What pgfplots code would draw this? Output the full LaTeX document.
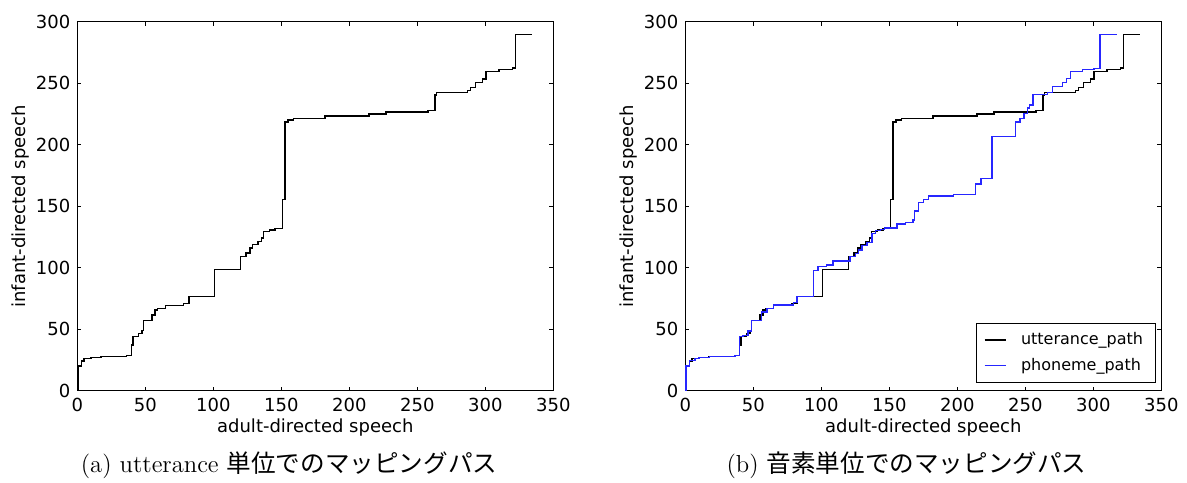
\documentclass[border=0pt]{standalone}
\usepackage{fontspec}
\usepackage{pgfplots}
\pgfplotsset{compat=1.18}
\newfontfamily\dejavu{DejaVu Sans}
\newfontfamily\jp{Noto Sans CJK JP}
\definecolor{mplblue}{rgb}{0.15,0.15,1}

% DTW alignment path at utterance level (x: adult, y: infant)
\pgfplotstableread{
x y
0 0
0.5 20
3 24
5 26
10 27
17.5 27.6
36 28.4
40 37
41 44
45 46.5
47.5 49
48.5 57
55 61.5
57 65.5
59 67
65 69.5
78 71
82 76.4
100.8 98.7
120 109
124 112
127 116
129 118.7
133 121.3
135.5 124
137 129.3
141.5 130.6
145.5 132
151 155.5
152.8 218.5
155 220
159 221.5
182 223.3
214.5 224.8
227 226.7
258 227.6
263 240.5
264 242.6
287 244.3
289 246.5
293 250.5
298 253.5
300.5 259.5
310 261
320 262.5
322.3 289.5
334.5 289.5
}\utterancepath

% DTW alignment path at phoneme level
\pgfplotstableread{
x y
0 0
0.5 20
3 24.5
7 26.3
10 27
18 27.6
36.5 28.7
40 44
42.5 45
46 48.7
48.5 57
56 64
60 67
65 69.7
79.5 71.6
82 76.4
94.3 97.6
97.5 101
104 102.2
108.5 105.5
121 109
125 111.7
127.5 114.4
130 118
133.5 120.4
137.3 127.9
139.7 130.1
143.4 131.2
146.3 132.3
155.7 135.5
161.8 136.6
167.5 138.8
168.5 146
171.6 153
175.3 155.6
179 158.4
197.4 159.3
213.5 168
217.3 172.7
225.6 206.5
242.8 218.3
246 221.4
249 225.5
251.4 230
253.3 232.3
255.8 241
266.1 242.3
269.8 247.2
277.2 250.8
280.4 253.8
283.3 259.6
292.2 261
300.4 262.1
304.9 289.5
317.7 289.5
}\phonemepath

\pgfplotsset{
  dtwaxis/.style={
    scale only axis,
    width=238pt, height=184.5pt,
    xmin=0, xmax=350, ymin=0, ymax=300,
    xtick={0,50,...,350}, ytick={0,50,...,300},
    tick align=inside,
    major tick length=2pt,
    axis line style={line width=0.5pt},
    every tick/.style={black, line width=0.4pt},
    /pgf/number format/assume math mode=true,
    ticklabel style={font=\dejavu\fontsize{9}{10}\selectfont},
    label style={font=\dejavu\fontsize{9}{10}\selectfont},
    xlabel={adult-directed speech},
    ylabel={infant-directed speech},
    xlabel style={at={(axis description cs:0.5,-0.100)}, anchor=center},
    ylabel style={at={(axis description cs:-0.1195,0.5)}, anchor=center},
    clip=false,
  },
}

\begin{document}
\begin{tikzpicture}
\useasboundingbox (-38.65pt,-45.65pt) rectangle (554.85pt,195.35pt);

\begin{axis}[dtwaxis, at={(0pt,0pt)}, anchor=south west]
  \addplot[const plot, black, line width=0.7pt] table[x=x,y=y] {\utterancepath};
\end{axis}

\begin{axis}[dtwaxis, at={(304pt,0pt)}, anchor=south west,
  legend style={at={(axis description cs:0.988,0.0217)}, anchor=south east,
    draw=black, line width=0.5pt,
    font=\dejavu\fontsize{8}{9}\selectfont,
    inner xsep=4pt, inner ysep=2.5pt, row sep=1.2pt,
    /tikz/every odd column/.append style={column sep=5pt}},
  legend cell align=left,
  legend image code/.code={\draw[#1] (0pt,0pt) -- (10.8pt,0pt);},
  ]
  \addplot[const plot, black, line width=0.7pt] table[x=x,y=y] {\utterancepath};
  \addlegendentry{utterance\_path}
  \addplot[const plot, mplblue, line width=0.7pt] table[x=x,y=y] {\phonemepath};
  \addlegendentry{phoneme\_path}
\end{axis}

\node[anchor=base, font=\fontsize{12.3}{14}\selectfont] at (105.9pt,-40.65pt)
  {(a) utterance {\jp 単位でのマッピングパス}};
\node[anchor=base, font=\fontsize{12.3}{14}\selectfont] at (414.6pt,-40.65pt)
  {(b) {\jp 音素単位でのマッピングパス}};
\end{tikzpicture}
\end{document}
